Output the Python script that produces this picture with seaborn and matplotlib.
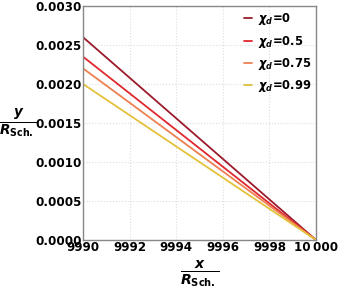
import numpy as np
import pandas as pd
import seaborn as sns
import matplotlib
matplotlib.use("Agg")
import matplotlib.pyplot as plt

# data
x_vals = [9990, 10000]
chi_labels = ["0", "0.5", "0.75", "0.99"]
y_start = [0.0026, 0.00235, 0.0022, 0.0020]
y_end = [0.0, 0.0, 0.0, 0.0]
colors = ["#9b1b2b", "#e0282e", "#ee8050", "#e3c13c"]
xticks = [9990, 9992, 9994, 9996, 9998, 10000]
xtick_labels = ["9990", "9992", "9994", "9996", "9998", "10\u2009000"]
yticks = [0.0, 0.0005, 0.0010, 0.0015, 0.0020, 0.0025, 0.0030]

rows = []
for lab, ys, ye in zip(chi_labels, y_start, y_end):
    name = r"$\chi_d$=" + lab
    rows.append({"x": x_vals[0], "y": ys, "series": name})
    rows.append({"x": x_vals[1], "y": ye, "series": name})
df = pd.DataFrame(rows)

sns.set_theme(style="white")
plt.rcParams["font.family"] = ["DejaVu Sans"]
plt.rcParams["font.weight"] = "bold"
plt.rcParams["mathtext.default"] = "it"
plt.rcParams["text.color"] = "black"

fig, ax = plt.subplots(figsize=(3.38, 2.92), dpi=100)
sns.lineplot(data=df, x="x", y="y", hue="series", palette=colors, ax=ax, linewidth=1.3)

ax.set_xlim(9990, 10000)
ax.set_ylim(0, 0.0030)
ax.set_xticks(xticks)
ax.set_xticklabels(xtick_labels, fontsize=8.6, fontweight="bold", color="black")
ax.set_yticks(yticks)
ax.set_yticklabels([f"{v:.4f}" for v in yticks], fontsize=8.6, fontweight="bold", color="black")
ax.tick_params(axis="both", length=0, pad=1)
ax.grid(True, color="#dddddd", linestyle=":", linewidth=0.8)
for s in ax.spines.values():
    s.set_color("#888888")
    s.set_linewidth(1.0)

ax.set_xlabel(r"$\frac{\mathbfit{x}}{\mathbfit{R}_{\mathbf{Sch.}}}$", fontsize=14.5, labelpad=3, color="black")
ax.set_ylabel(r"$\frac{\mathbfit{y}}{\mathbfit{R}_{\mathbf{Sch.}}}$", fontsize=14, rotation=0,
              va="center", ha="center", color="black")
ax.yaxis.set_label_coords(-0.28, 0.5)

leg = ax.legend(loc="upper right", frameon=False, handlelength=0.7, handletextpad=0.5,
                prop={"weight": "bold", "size": 8.3}, borderaxespad=0.05, labelspacing=0.55)
for t in leg.get_texts():
    t.set_color("black")

fig.subplots_adjust(left=0.246, right=0.935, top=0.979, bottom=0.178)
fig.savefig("out.png", dpi=100)
